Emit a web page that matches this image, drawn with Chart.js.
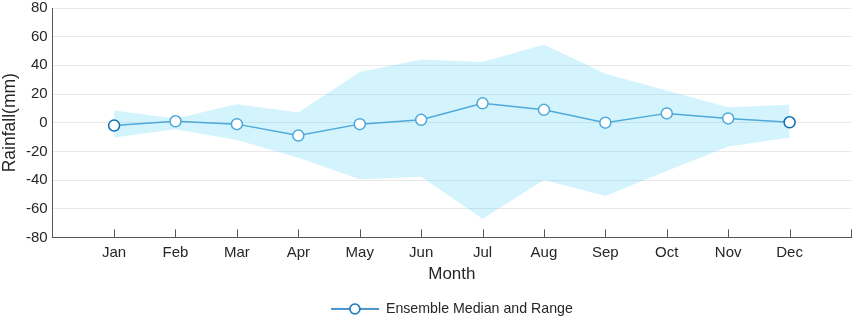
<!DOCTYPE html>
<html>
<head>
<meta charset="utf-8">
<script src="https://cdn.jsdelivr.net/npm/chart.js@4.4.1/dist/chart.umd.min.js"></script>
<style>
  html, body { margin: 0; padding: 0; background: #fff; }
  #wrap { width: 858px; height: 319px; }
</style>
</head>
<body>
<div id="wrap"><canvas id="rainChart"></canvas></div>
<script>
const months = ['Jan', 'Feb', 'Mar', 'Apr', 'May', 'Jun', 'Jul', 'Aug', 'Sep', 'Oct', 'Nov', 'Dec'];
const medianValues = [-2, 1, -1, -9, -1, 2, 13.5, 9, 0, 6.5, 3, 0.3];
const upperValues = [8.5, 3, 12.8, 7.2, 35.3, 44, 42.3, 54.5, 34.2, 22.5, 10.8, 12.6];
const lowerValues = [-10.3, -4.5, -12, -24.5, -39.5, -37.7, -67, -40, -51.2, -33.7, -16.6, -10.3];
const yTicks = [-80, -60, -40, -20, 0, 20, 40, 60, 80];

const fontFamily = '"Liberation Sans", Arial, Helvetica, sans-serif';
const lineColor = '#4ea9d9';
const darkBlue = '#0b6fb8';
const bandColor = 'rgba(40, 200, 245, 0.2)';

function toPoints(values) {
  return values.map((v, i) => ({ x: i + 1, y: v }));
}

// legend icon: line with open circle
function legendIcon() {
  const c = document.createElement('canvas');
  c.width = 48; c.height = 14;
  const g = c.getContext('2d');
  g.strokeStyle = darkBlue;
  g.lineWidth = 1.5;
  g.beginPath(); g.moveTo(0, 7); g.lineTo(48, 7); g.stroke();
  g.fillStyle = '#fff';
  g.beginPath(); g.arc(24, 7, 5, 0, Math.PI * 2); g.fill(); g.stroke();
  return c;
}

// MATLAB style inward ticks on the x axis
const innerTicks = {
  id: 'innerTicks',
  afterDraw(chart) {
    const ctx = chart.ctx;
    const area = chart.chartArea;
    const xs = chart.scales.x;
    ctx.save();
    ctx.strokeStyle = '#555';
    ctx.lineWidth = 1;
    for (let i = 1; i <= months.length + 1; i++) {
      const px = Math.round(xs.getPixelForValue(i)) + 0.5;
      ctx.beginPath();
      ctx.moveTo(px, area.bottom);
      ctx.lineTo(px, area.bottom - 8);
      ctx.stroke();
    }
    ctx.restore();
  }
};

const ctx = document.getElementById('rainChart').getContext('2d');
new Chart(ctx, {
  type: 'line',
  data: {
    datasets: [
      {
        label: 'upper',
        data: toPoints(upperValues),
        borderWidth: 0,
        pointRadius: 0,
        backgroundColor: bandColor,
        fill: '+1',
        order: 2
      },
      {
        label: 'lower',
        data: toPoints(lowerValues),
        borderWidth: 0,
        pointRadius: 0,
        backgroundColor: bandColor,
        fill: false,
        order: 2
      },
      {
        label: 'Ensemble Median and Range',
        data: toPoints(medianValues),
        borderColor: lineColor,
        borderWidth: 1.5,
        backgroundColor: '#fff',
        pointBackgroundColor: '#fff',
        pointBorderColor: medianValues.map((v, i) => (i === 0 || i === medianValues.length - 1) ? darkBlue : lineColor),
        pointBorderWidth: 1.5,
        pointRadius: 5.5,
        fill: false,
        tension: 0,
        order: 1
      }
    ]
  },
  options: {
    responsive: true,
    maintainAspectRatio: false,
    animation: false,
    layout: { padding: { top: 8, right: 4, left: 0, bottom: -7 } },
    scales: {
      x: {
        type: 'linear',
        min: 0,
        max: 13,
        afterBuildTicks: s => { s.ticks = months.map((m, i) => ({ value: i + 1 })); },
        ticks: {
          autoSkip: false,
          maxRotation: 0,
          padding: 6,
          color: '#262626',
          font: { family: fontFamily, size: 15 },
          callback: v => months[v - 1] || ''
        },
        grid: { display: false, drawTicks: false },
        border: { display: true, color: '#555', width: 1 },
        title: {
          display: true,
          text: 'Month',
          color: '#262626',
          font: { family: fontFamily, size: 17 },
          padding: { top: -3, bottom: 13 }
        }
      },
      y: {
        min: -80,
        max: 80,
        afterBuildTicks: s => { s.ticks = yTicks.map(v => ({ value: v })); },
        afterFit: s => { s.paddingTop = 0; s.paddingBottom = 0; },
        ticks: {
          color: '#262626',
          padding: 5,
          font: { family: fontFamily, size: 15 }
        },
        grid: { color: 'rgba(0,0,0,0.09)', drawTicks: false },
        border: { display: true, color: '#555', width: 1 },
        title: {
          display: true,
          text: 'Rainfall(mm)',
          color: '#262626',
          font: { family: fontFamily, size: 17.5 },
          padding: { top: 0, bottom: 0 }
        }
      }
    },
    plugins: {
      legend: {
        position: 'bottom',
        fullSize: false,
        labels: {
          usePointStyle: true,
          pointStyleWidth: 48,
          boxHeight: 14,
          color: '#262626',
          font: { family: fontFamily, size: 14.2 },
          padding: 4,
          filter: item => item.text === 'Ensemble Median and Range',
          generateLabels: chart => {
            const items = Chart.defaults.plugins.legend.labels.generateLabels(chart);
            items.forEach(it => { it.pointStyle = legendIcon(); });
            return items;
          }
        }
      },
      tooltip: { enabled: false }
    }
  },
  plugins: [innerTicks]
});
</script>
</body>
</html>
